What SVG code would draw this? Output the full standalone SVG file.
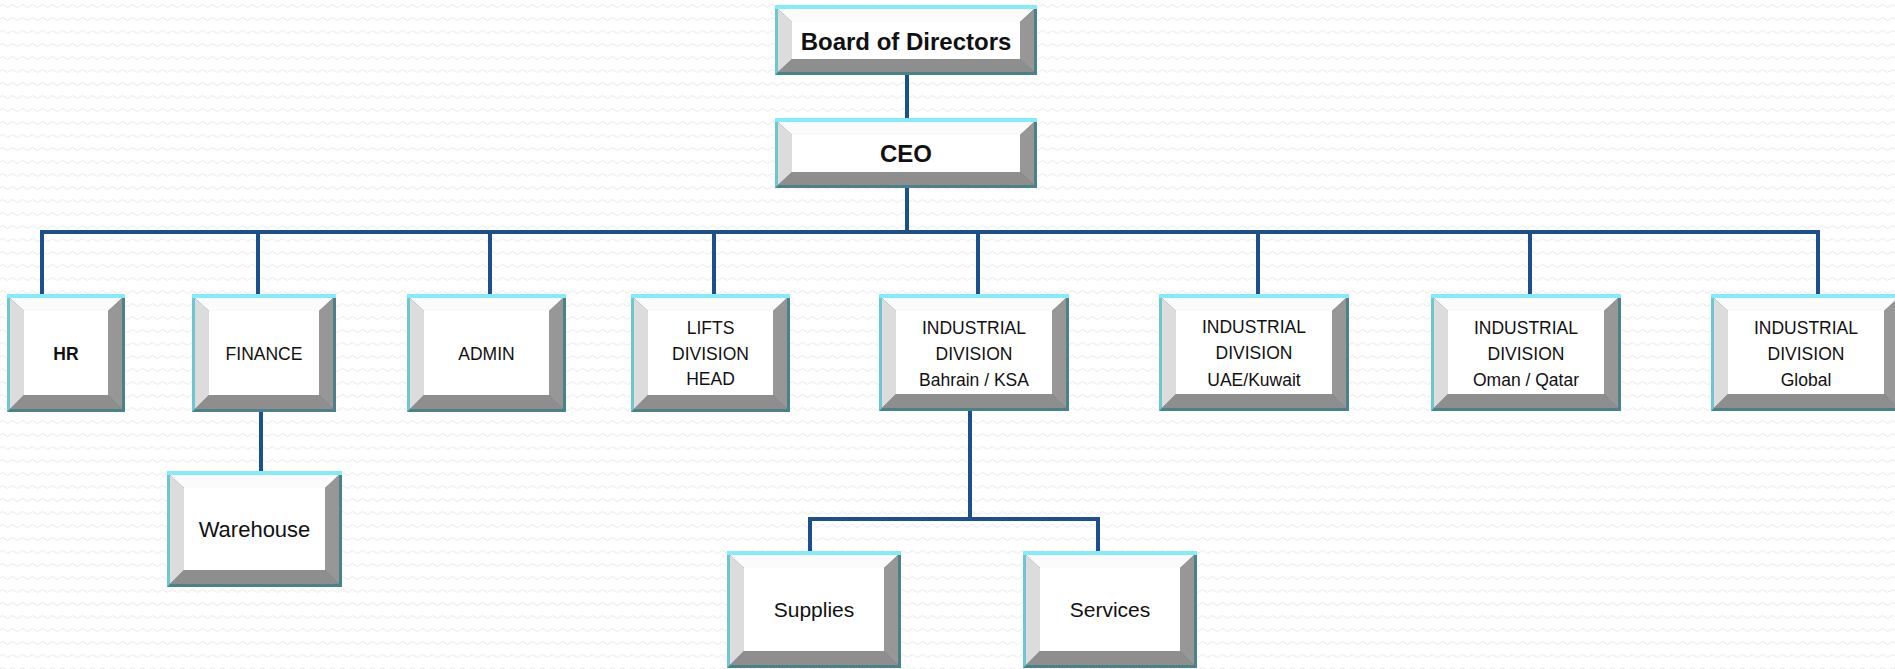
<svg xmlns="http://www.w3.org/2000/svg" xmlns:xlink="http://www.w3.org/1999/xlink" width="1895" height="669" viewBox="0 0 1895 669">
<style>
.fo{fill:#4b8189}.fl{fill:#6ec6d3}.ft{fill:#84ebfb}
.bt{fill:#fbfbfb}.bl{fill:#dcdcdc}.br{fill:#979797}.bb{fill:#8e8e8e}.face{fill:#ffffff}
.t{font-family:"Liberation Sans",Arial,sans-serif;fill:#111;text-anchor:middle}
.tb{font-weight:bold;font-size:24px}
.tn{font-size:17.5px}
.tm{font-size:21px}
.con{stroke:#1d4f8c;stroke-width:4;fill:none;stroke-linecap:butt}
</style>
<defs>
<pattern id="bg" width="10" height="13" patternUnits="userSpaceOnUse">
<path d="M0 6 Q2.5 3 5 6 T10 6" stroke="#e9e9e9" stroke-width="1" fill="none"/>
</pattern>
<g id="boxA">
<rect class="fo" x="0" y="0" width="262" height="70"/>
<polygon class="fl" points="0,0 262,0 259,3 3,3 3,67 0,70"/>
<rect class="ft" x="0" y="0" width="262" height="4"/>
<polygon class="bt" points="3,4 259,4 245,17 17,17"/>
<polygon class="bl" points="3,4 17,17 17,54 3,67"/>
<polygon class="br" points="259,4 259,67 245,54 245,17"/>
<polygon class="bb" points="3,67 259,67 245,54 17,54"/>
<rect class="face" x="17" y="17" width="228" height="37"/>
</g>
<g id="boxB">
<rect class="fo" x="0" y="0" width="118" height="118"/>
<polygon class="fl" points="0,0 118,0 115,3 3,3 3,115 0,118"/>
<rect class="ft" x="0" y="0" width="118" height="4"/>
<polygon class="bt" points="3,4 115,4 101,17 17,17"/>
<polygon class="bl" points="3,4 17,17 17,101 3,115"/>
<polygon class="br" points="115,4 115,115 101,101 101,17"/>
<polygon class="bb" points="3,115 115,115 101,101 17,101"/>
<rect class="face" x="17" y="17" width="84" height="84"/>
</g>
<g id="boxC">
<rect class="fo" x="0" y="0" width="144" height="118"/>
<polygon class="fl" points="0,0 144,0 141,3 3,3 3,115 0,118"/>
<rect class="ft" x="0" y="0" width="144" height="4"/>
<polygon class="bt" points="3,4 141,4 127,17 17,17"/>
<polygon class="bl" points="3,4 17,17 17,101 3,115"/>
<polygon class="br" points="141,4 141,115 127,101 127,17"/>
<polygon class="bb" points="3,115 141,115 127,101 17,101"/>
<rect class="face" x="17" y="17" width="110" height="84"/>
</g>
<g id="boxD">
<rect class="fo" x="0" y="0" width="159" height="118"/>
<polygon class="fl" points="0,0 159,0 156,3 3,3 3,115 0,118"/>
<rect class="ft" x="0" y="0" width="159" height="4"/>
<polygon class="bt" points="3,4 156,4 142,17 17,17"/>
<polygon class="bl" points="3,4 17,17 17,101 3,115"/>
<polygon class="br" points="156,4 156,115 142,101 142,17"/>
<polygon class="bb" points="3,115 156,115 142,101 17,101"/>
<rect class="face" x="17" y="17" width="125" height="84"/>
</g>
<g id="boxE">
<rect class="fo" x="0" y="0" width="190" height="117"/>
<polygon class="fl" points="0,0 190,0 187,3 3,3 3,114 0,117"/>
<rect class="ft" x="0" y="0" width="190" height="4"/>
<polygon class="bt" points="3,4 187,4 173,17 17,17"/>
<polygon class="bl" points="3,4 17,17 17,100 3,114"/>
<polygon class="br" points="187,4 187,114 173,100 173,17"/>
<polygon class="bb" points="3,114 187,114 173,100 17,100"/>
<rect class="face" x="17" y="17" width="156" height="83"/>
</g>
<g id="boxF">
<rect class="fo" x="0" y="0" width="175" height="116"/>
<polygon class="fl" points="0,0 175,0 172,3 3,3 3,113 0,116"/>
<rect class="ft" x="0" y="0" width="175" height="4"/>
<polygon class="bt" points="3,4 172,4 158,17 17,17"/>
<polygon class="bl" points="3,4 17,17 17,99 3,113"/>
<polygon class="br" points="172,4 172,113 158,99 158,17"/>
<polygon class="bb" points="3,113 172,113 158,99 17,99"/>
<rect class="face" x="17" y="17" width="141" height="82"/>
</g>
<g id="boxG">
<rect class="fo" x="0" y="0" width="174" height="117"/>
<polygon class="fl" points="0,0 174,0 171,3 3,3 3,114 0,117"/>
<rect class="ft" x="0" y="0" width="174" height="4"/>
<polygon class="bt" points="3,4 171,4 157,17 17,17"/>
<polygon class="bl" points="3,4 17,17 17,100 3,114"/>
<polygon class="br" points="171,4 171,114 157,100 157,17"/>
<polygon class="bb" points="3,114 171,114 157,100 17,100"/>
<rect class="face" x="17" y="17" width="140" height="83"/>
</g>
</defs>
<rect x="0" y="0" width="1895" height="669" fill="#ffffff"/>
<rect x="0" y="0" width="1895" height="669" fill="url(#bg)"/>

<g id="connectors">
<line class="con" x1="907" y1="75" x2="907" y2="118"/>
<line class="con" x1="907" y1="187" x2="907" y2="233"/>
<line class="con" x1="40" y1="232" x2="1820" y2="232"/>
<line class="con" x1="42" y1="232" x2="42" y2="294"/>
<line class="con" x1="258" y1="232" x2="258" y2="294"/>
<line class="con" x1="490" y1="232" x2="490" y2="294"/>
<line class="con" x1="714" y1="232" x2="714" y2="294"/>
<line class="con" x1="978" y1="232" x2="978" y2="294"/>
<line class="con" x1="1258" y1="232" x2="1258" y2="294"/>
<line class="con" x1="1530" y1="232" x2="1530" y2="294"/>
<line class="con" x1="1818" y1="232" x2="1818" y2="294"/>
<line class="con" x1="261" y1="412" x2="261" y2="471"/>
<line class="con" x1="970" y1="410" x2="970" y2="520"/>
<line class="con" x1="808" y1="519" x2="1100" y2="519"/>
<line class="con" x1="810" y1="519" x2="810" y2="551"/>
<line class="con" x1="1098" y1="519" x2="1098" y2="551"/>
</g>

<g id="board"><use href="#boxA" x="775" y="5"/><text class="t tb" x="906" y="50">Board of Directors</text></g>
<g id="ceo"><use href="#boxA" x="775" y="118"/><text class="t tb" x="906" y="162">CEO</text></g>
<g id="hr"><use href="#boxB" x="7" y="294"/><text class="t tn" font-weight="bold" x="66" y="360">HR</text></g>
<g id="finance"><use href="#boxC" x="192" y="294"/><text class="t tn" x="264" y="360">FINANCE</text></g>
<g id="admin"><use href="#boxD" x="407" y="294"/><text class="t tn" x="486.5" y="360">ADMIN</text></g>
<g id="lifts"><use href="#boxD" x="631" y="294"/><text class="t tn" x="710.5" y="334">LIFTS</text><text class="t tn" x="710.5" y="360">DIVISION</text><text class="t tn" x="710.5" y="385">HEAD</text></g>
<g id="ind-bahrain"><use href="#boxE" x="879" y="294"/><text class="t tn" x="974" y="334">INDUSTRIAL</text><text class="t tn" x="974" y="360">DIVISION</text><text class="t tn" x="974" y="386">Bahrain / KSA</text></g>
<g id="ind-uae"><use href="#boxE" x="1159" y="294"/><text class="t tn" x="1254" y="333">INDUSTRIAL</text><text class="t tn" x="1254" y="359">DIVISION</text><text class="t tn" x="1254" y="386">UAE/Kuwait</text></g>
<g id="ind-oman"><use href="#boxE" x="1431" y="294"/><text class="t tn" x="1526" y="334">INDUSTRIAL</text><text class="t tn" x="1526" y="360">DIVISION</text><text class="t tn" x="1526" y="386">Oman / Qatar</text></g>
<g id="ind-global"><use href="#boxE" x="1711" y="294"/><text class="t tn" x="1806" y="334">INDUSTRIAL</text><text class="t tn" x="1806" y="360">DIVISION</text><text class="t tn" x="1806" y="386">Global</text></g>
<g id="warehouse"><use href="#boxF" x="167" y="471"/><text class="t" font-size="22" x="254.5" y="537">Warehouse</text></g>
<g id="supplies"><use href="#boxG" x="727" y="551"/><text class="t tm" x="814" y="617">Supplies</text></g>
<g id="services"><use href="#boxG" x="1023" y="551"/><text class="t tm" x="1110" y="617">Services</text></g>
</svg>
